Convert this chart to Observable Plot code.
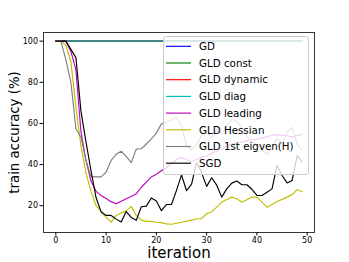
<!DOCTYPE html>
<html>
<head>
<meta charset="utf-8">
<script src="https://cdn.jsdelivr.net/npm/d3@7"></script>
<script src="https://cdn.jsdelivr.net/npm/@observablehq/plot@0.6"></script>
<style>
  html, body { margin: 0; padding: 0; background: #fff; }
  #wrap { position: relative; width: 349px; height: 262px; font-family: "DejaVu Sans", sans-serif; }
  #legend { position: absolute; left: 0; top: 0; }
</style>
</head>
<body>
<div id="wrap"></div>
<script>
// ---- data ----
const iterations = [0,1,2,3,4,5,6,7,8,9,10,11,12,13,14,15,16,17,18,19,20,21,22,23,24,25,26,27,28,29,30,31,32,33,34,35,36,37,38,39,40,41,42,43,44,45,46,47,48,49];
const seriesNames = ["GD","GLD const","GLD dynamic","GLD diag","GLD leading","GLD Hessian","GLD 1st eigven(H)","SGD"];
const seriesColors = ["#0000ff","#008000","#ff0000","#00bfbf","#bf00bf","#bfbf00","#808080","#000000"];
const gd      = [100,100,100,100,100,100,100,100,100,100,100,100,100,100,100,100,100,100,100,100,100,100,100,100,100,100,100,100,100,100,100,100,100,100,100,100,100,100,100,100,100,100,100,100,100,100,100,100,100,100];
const gldConst   = [100,100,100,100,100,100,100,100,100,100,100,100,100,100,100,100,100,100,100,100,100,100,100,100,100,100,100,100,100,100,100,100,100,100,100,100,100,100,100,100,100,100,100,100,100,100,100,100,100,100];
const gldDynamic = [100,100,100,100,100,100,100,100,100,100,100,100,100,100,100,100,100,100,100,100,100,100,100,100,100,100,100,100,100,100,100,100,100,100,100,100,100,100,100,100,100,100,100,100,100,100,100,100,100,100];
const gldDiag    = [100,100,100,100,100,100,100,100,100,100,100,100,100,100,100,100,100,100,100,100,100,100,100,100,100,100,100,100,100,100,100,100,100,100,100,100,100,100,100,100,100,100,100,100,100,100,100,100,100,100];
const gldLeading = [100,100,100,95,86,56,42,32,27,25,23.5,22,21,22.2,23.4,24.5,25.8,29,31.5,34,35.3,37,38.5,40.5,42.5,43.5,42.5,41.5,42.5,43.5,44.3,45.5,46.5,47.5,49,50,50.5,51,51.5,52,52.3,53,53.5,54.3,54.6,54.3,54,53.5,54,54.6];
const gldHessian = [100,100,98,90,68,49,36,27,20,17.5,14.5,12,15.3,16.5,17.5,19.7,15.3,13,12.4,12.4,12,11.8,11.2,11,11.5,12,12.5,13,13.7,13.7,16.1,17,19.3,21.8,23,24.2,23.4,21.8,22.9,24.2,24.2,21.8,19.3,20.6,22.1,23.1,24.2,25.4,27.8,26.8];
const gldEigen   = [100,100,91,80,57.4,53.3,42,34,34,34,36.3,42,45,46.5,44,41,47.5,47.7,50,52.5,55.3,59.8,60.6,61.7,63,59,49,47,50,54,56,53,57,55,59,62,61,58,54,51,50,47,45,48,53,50,56,58,50,47];
const sgd        = [100,100,100,96,92,66,51,37,24,17,15.3,15.3,13.5,12.1,17.2,14.3,12.9,19.5,19.8,23.8,22.3,17.6,20.6,20.6,27.5,35,27.3,30.5,41,36,29.4,33.6,30,24.2,28.2,31,32,30.2,30.2,28,25,25,26.6,28.2,39.6,34.7,31.1,32.3,44.4,41.2];
const xTicks = [0,10,20,30,40,50];
const yTicks = [20,40,60,80,100];
const xLabel = "iteration";
const yLabel = "train accuracy (%)";

const allSeries = [gd, gldConst, gldDynamic, gldDiag, gldLeading, gldHessian, gldEigen, sgd];
const rows = [];
allSeries.forEach((vals, k) => vals.forEach((v, i) => rows.push({name: seriesNames[k], k, x: iterations[i], y: v})));

const W = 349, H = 262;
const chart = Plot.plot({
  width: W, height: H,
  marginLeft: 43, marginRight: 35, marginTop: 32, marginBottom: 30,
  style: {fontFamily: "DejaVu Sans, sans-serif", background: "#fff", overflow: "visible"},
  x: {domain: [-2.45, 51.45]},
  y: {domain: [7.0, 104.2]},
  marks: [
    ...seriesNames.map((n, k) => Plot.line(rows.filter(d => d.k === k), {x: "x", y: "y", stroke: seriesColors[k], strokeWidth: 1.15})),
    Plot.frame({stroke: "#222", strokeWidth: 0.9}),
    Plot.axisX({ticks: xTicks, tickSize: 3.5, tickPadding: 1, fontSize: 8, label: null, tickFormat: d => String(d)}),
    Plot.axisY({ticks: yTicks, tickSize: 3.5, tickPadding: 2, fontSize: 8, label: null, tickFormat: d => String(d)}),
    Plot.text([yLabel], {text: d => d, frameAnchor: "left", textAnchor: "middle", dx: -29, rotate: -90, fontSize: 13.3, fill: "#000"}),
    Plot.text([xLabel], {text: d => d, frameAnchor: "bottom", textAnchor: "middle", dy: 25, fontSize: 15, fill: "#000"})
  ]
});
const wrap = document.getElementById("wrap");
wrap.appendChild(chart);

// legend overlay
const lg = d3.select(wrap).append("svg").attr("id", "legend").attr("width", W).attr("height", H);
const lx = 163, ly = 36, lw = 145, lh = 138, step = 16.7;
lg.append("rect").attr("x", lx + 0.5).attr("y", ly + 0.5).attr("width", lw).attr("height", lh)
  .attr("rx", 2).attr("fill", "rgba(255,255,255,0.8)").attr("stroke", "#cccccc").attr("stroke-width", 1);
seriesNames.forEach((n, k) => {
  const yy = ly + 10.3 + k * step;
  lg.append("line").attr("x1", lx + 3).attr("x2", lx + 28).attr("y1", yy).attr("y2", yy)
    .attr("stroke", seriesColors[k]).attr("stroke-width", 1.15);
  lg.append("text").attr("x", lx + 36).attr("y", yy).attr("dy", "0.36em")
    .attr("font-family", "DejaVu Sans, sans-serif").attr("font-size", 10.3).attr("fill", "#000").text(n);
});
</script>
</body>
</html>
